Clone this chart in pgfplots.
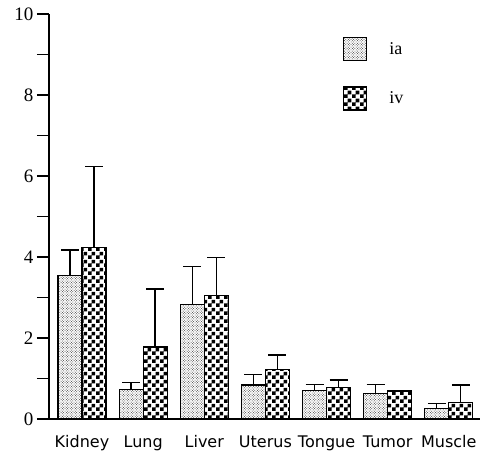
\documentclass[border=0pt]{standalone}
\usepackage{fontspec}
\setmainfont{Liberation Serif}
\newfontfamily\labfont{DejaVu Sans}
\usepackage{pgfplots}
\pgfplotsset{compat=1.18}
\usetikzlibrary{patterns}
\pgfdeclarepatternformonly{checker}{\pgfqpoint{0pt}{0pt}}{\pgfqpoint{8pt}{8pt}}{\pgfqpoint{8pt}{8pt}}{%
  \pgfpathrectangle{\pgfqpoint{0pt}{0pt}}{\pgfqpoint{4pt}{4pt}}%
  \pgfpathrectangle{\pgfqpoint{4pt}{4pt}}{\pgfqpoint{4pt}{4pt}}%
  \pgfusepath{fill}}
\pgfdeclarepatternformonly{stipple}{\pgfqpoint{-1pt}{-1pt}}{\pgfqpoint{3pt}{3pt}}{\pgfqpoint{2.6pt}{2.6pt}}{%
  \pgfpathcircle{\pgfqpoint{0pt}{0pt}}{0.5pt}%
  \pgfpathcircle{\pgfqpoint{1.3pt}{1.3pt}}{0.5pt}%
  \pgfusepath{fill}}

\pgfplotstableread{
x ia iaerr iv iverr
0 3.54 0.63 4.24 1.99
1 0.73 0.18 1.78 1.43
2 2.83 0.93 3.05 0.93
3 0.84 0.26 1.23 0.35
4 0.70 0.16 0.78 0.18
5 0.62 0.24 0.69 0.00
6 0.26 0.13 0.41 0.43
}\datatable

\begin{document}
\begin{tikzpicture}
\begin{axis}[
  scale only axis,
  width=431pt, height=405pt,
  xmin=-0.54, xmax=6.51,
  ymin=0, ymax=10,
  axis lines*=left,
  axis line style={-, line width=1.3pt},
  ybar=0pt, bar width=24pt,
  xtick={0,...,6},
  xticklabels={Kidney,Lung,Liver,Uterus,Tongue,Tumor,Muscle},
  x tick label style={font=\labfont\fontsize{16}{16}\selectfont, yshift=-1pt},
  xtick style={draw=none},
  ytick={0,2,...,10},
  minor ytick={1,3,...,9},
  tick align=outside,
  major tick length=12pt, minor tick length=12pt,
  ytick style={line width=1.2pt, black},
  minor tick style={line width=1.2pt, black},
  y tick label style={font=\fontsize{19}{19}\selectfont},
  /pgf/number format/assume math mode=true,
  clip=false,
  legend style={at={(rel axis cs:0.682,0.943)}, anchor=north west, draw=none, fill=none,
    inner sep=0pt, row sep=25pt, column sep=20pt, font=\fontsize{18}{18}\selectfont,
    cells={anchor=west}},
  legend image code/.code={\draw[#1] (0pt,-11.5pt) rectangle (23pt,11.5pt);},
]
\addplot[draw=black, line width=1.2pt, pattern=stipple, pattern color=black!75,
  error bars/.cd, y dir=plus, y explicit,
  error bar style={line width=1.3pt, black},
  error mark options={rotate=90, mark size=9pt, line width=1.3pt, black}]
  table[x=x, y=ia, y error=iaerr] {\datatable};
\addplot[draw=black, line width=1.2pt, pattern=checker, pattern color=black,
  error bars/.cd, y dir=plus, y explicit,
  error bar style={line width=1.3pt, black},
  error mark options={rotate=90, mark size=9pt, line width=1.3pt, black}]
  table[x=x, y=iv, y error=iverr] {\datatable};
\legend{ia, iv}
\end{axis}
\path ([shift={(-49pt,-39pt)}]current axis.south west) rectangle ([shift={(16pt,14pt)}]current axis.north east);
\end{tikzpicture}
\end{document}
